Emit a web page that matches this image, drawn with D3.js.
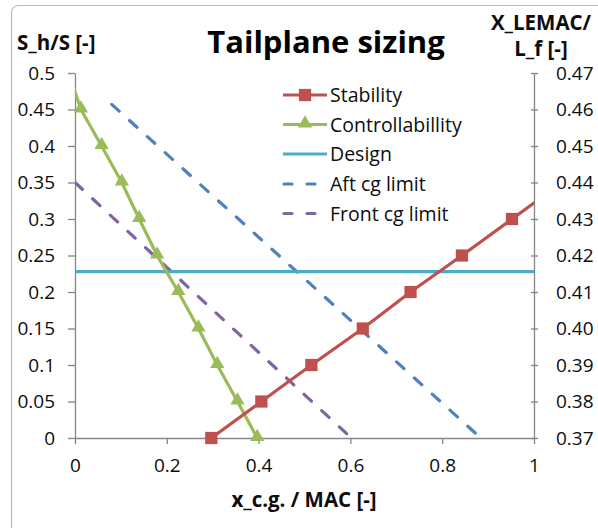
<!DOCTYPE html>
<html>
<head>
<meta charset="utf-8">
<script src="https://cdn.jsdelivr.net/npm/d3@7/dist/d3.min.js"></script>
<style>
  html, body { margin: 0; padding: 0; background: #fff; }
  svg { display: block; font-family: "Open Sans", Lato, sans-serif; }
</style>
</head>
<body>
<svg id="chart" width="598" height="528"></svg>
<script>
// Tailplane sizing: scissor plot of S_h/S against x_c.g./MAC,
// with the c.g. limits read against X_LEMAC/L_f on the right axis.

const xTicks = [0, 0.2, 0.4, 0.6, 0.8, 1];
const yLeftTicks = [0, 0.05, 0.1, 0.15, 0.2, 0.25, 0.3, 0.35, 0.4, 0.45, 0.5];
const yRightTicks = [0.37, 0.38, 0.39, 0.40, 0.41, 0.42, 0.43, 0.44, 0.45, 0.46, 0.47];

// Stability line (left axis)
const stabilityX = [0.297, 0.406, 0.515, 0.627, 0.731, 0.843, 0.952, 1.061];
const stabilityY = [0, 0.05, 0.10, 0.15, 0.20, 0.25, 0.30, 0.35];

// Controllability line (left axis)
const controlX = [-0.014, 0.013, 0.058, 0.102, 0.140, 0.179, 0.225, 0.269, 0.310, 0.354, 0.397];
const controlY = [0.50, 0.45, 0.40, 0.35, 0.30, 0.25, 0.20, 0.15, 0.10, 0.05, 0];

// Chosen design tail size (left axis)
const designX = [0, 1];
const designY = [0.228, 0.228];

// c.g. limits (right axis)
const aftX = [0.080, 0.884];
const aftY = [0.4614, 0.37];
const frontX = [0, 0.602];
const frontY = [0.44, 0.37];

const seriesNames = ["Stability", "Controllabillity", "Design", "Aft cg limit", "Front cg limit"];
const colors = {
  stability: "#c0504d",
  control: "#9bbb59",
  design: "#4bacc6",
  aft: "#4f81bd",
  front: "#8064a2"
};

const svg = d3.select("#chart");
const plot = { left: 75, right: 534, top: 73, bottom: 438 };

const x = d3.scaleLinear().domain([0, 1]).range([plot.left, plot.right]);
const yL = d3.scaleLinear().domain([0, 0.5]).range([plot.bottom, plot.top]);
const yR = d3.scaleLinear().domain([0.37, 0.47]).range([plot.bottom, plot.top]);

// chart frame
svg.append("rect")
  .attr("x", 11.5).attr("y", 5.5)
  .attr("width", 640).attr("height", 600)
  .attr("rx", 7)
  .attr("fill", "none")
  .attr("stroke", "#bcbcbc")
  .attr("stroke-width", 1.2);

svg.append("defs").append("clipPath").attr("id", "plotClip")
  .append("rect")
  .attr("x", plot.left).attr("y", plot.top - 1)
  .attr("width", plot.right - plot.left).attr("height", plot.bottom - plot.top + 8);

const fmt = d => String(+d.toFixed(2));
const axisColor = "#868686";
const labelColor = "#0d0d0d";
const tickFont = 19;

function styleAxis(g) {
  g.select(".domain").attr("stroke", axisColor).attr("stroke-width", 1.3);
  g.selectAll(".tick line").attr("stroke", axisColor).attr("stroke-width", 1.3);
  g.selectAll(".tick text")
    .attr("fill", labelColor)
    .style("font-size", tickFont + "px")
    .style("font-family", "'Open Sans', sans-serif");
}

// bottom axis
const gx = svg.append("g")
  .attr("transform", `translate(0,${plot.bottom})`)
  .call(d3.axisBottom(x).tickValues(xTicks).tickFormat(fmt).tickSize(6).tickSizeOuter(0).tickPadding(15));
styleAxis(gx);

// left axis
const gl = svg.append("g")
  .attr("transform", `translate(${plot.left},0)`)
  .call(d3.axisLeft(yL).tickValues(yLeftTicks).tickFormat(fmt).tickSize(7).tickSizeOuter(0).tickPadding(13));
styleAxis(gl);

// right axis
const gr = svg.append("g")
  .attr("transform", `translate(${plot.right},0)`)
  .call(d3.axisRight(yR).tickValues(yRightTicks).tickFormat(d => d.toFixed(2)).tickSize(4).tickSizeOuter(0).tickPadding(18));
styleAxis(gr);
gr.selectAll(".tick line").attr("x1", -3).attr("x2", 4);

// axis titles
const titleFont = "20.5px";
svg.append("text")
  .attr("x", 17).attr("y", 50)
  .style("font-size", titleFont).style("font-weight", "bold")
  .attr("fill", labelColor)
  .text("S_h/S [-]");

svg.append("text")
  .attr("x", 541).attr("y", 30).attr("text-anchor", "middle")
  .style("font-size", titleFont).style("font-weight", "bold")
  .attr("fill", labelColor)
  .text("X_LEMAC/");
svg.append("text")
  .attr("x", 541).attr("y", 56).attr("text-anchor", "middle")
  .style("font-size", titleFont).style("font-weight", "bold")
  .attr("fill", labelColor)
  .text("L_f [-]");

svg.append("text")
  .attr("x", 304).attr("y", 507).attr("text-anchor", "middle")
  .style("font-size", titleFont).style("font-weight", "bold")
  .attr("fill", labelColor)
  .text("x_c.g. / MAC [-]");

// title
svg.append("text")
  .attr("x", 326).attr("y", 53).attr("text-anchor", "middle")
  .style("font-size", "31px").style("font-weight", "bold")
  .attr("fill", "#000")
  .text("Tailplane sizing");

// series
const series = svg.append("g").attr("clip-path", "url(#plotClip)");
const lineL = d3.line().x(d => x(d[0])).y(d => yL(d[1]));
const lineR = d3.line().x(d => x(d[0])).y(d => yR(d[1]));

const zip = (a, b) => a.map((v, i) => [v, b[i]]);
const stability = zip(stabilityX, stabilityY);
const control = zip(controlX, controlY);
const design = zip(designX, designY);
const aft = zip(aftX, aftY);
const front = zip(frontX, frontY);

const dash = "10,14";

series.append("path").datum(aft).attr("d", lineR)
  .attr("fill", "none").attr("stroke", colors.aft).attr("stroke-width", 3.2)
  .attr("stroke-dasharray", dash).attr("stroke-linecap", "round");
series.append("path").datum(front).attr("d", lineR)
  .attr("fill", "none").attr("stroke", colors.front).attr("stroke-width", 3.2)
  .attr("stroke-dasharray", dash).attr("stroke-linecap", "round");
series.append("path").datum(design).attr("d", lineL)
  .attr("fill", "none").attr("stroke", colors.design).attr("stroke-width", 3.2);
series.append("path").datum(control).attr("d", lineL)
  .attr("fill", "none").attr("stroke", colors.control).attr("stroke-width", 3.2);
series.append("path").datum(stability).attr("d", lineL)
  .attr("fill", "none").attr("stroke", colors.stability).attr("stroke-width", 3.2);

const inPlot = d => d[0] >= 0 && d[0] <= 1;
const square = d3.symbol().type(d3.symbolSquare).size(150);
const triangle = d3.symbol().type(d3.symbolTriangle).size(88);

svg.append("g").selectAll("path").data(control.filter(inPlot)).join("path")
  .attr("d", triangle)
  .attr("transform", d => `translate(${x(d[0])},${yL(d[1]) - 1})`)
  .attr("fill", colors.control);

svg.append("g").selectAll("path").data(stability.filter(inPlot)).join("path")
  .attr("d", square)
  .attr("transform", d => `translate(${x(d[0])},${yL(d[1])})`)
  .attr("fill", colors.stability);

// legend
const legend = svg.append("g");
const legendKeys = ["stability", "control", "design", "aft", "front"];
const rowY = [95, 124.5, 154, 184, 213.5];
const lx0 = 283, lx1 = 327;

legendKeys.forEach((k, i) => {
  const row = legend.append("g").attr("transform", `translate(0,${rowY[i]})`);
  const ln = row.append("line")
    .attr("x1", lx0).attr("x2", lx1).attr("y1", 0).attr("y2", 0)
    .attr("stroke", colors[k]).attr("stroke-width", 3.2);
  if (k === "aft" || k === "front") {
    ln.attr("x1", lx0 + 1).attr("x2", lx1 - 4)
      .attr("stroke-dasharray", "8,15").attr("stroke-linecap", "round");
  }
  if (k === "stability") {
    row.append("path").attr("d", square)
      .attr("transform", `translate(${(lx0 + lx1) / 2},0)`)
      .attr("fill", colors[k]);
  }
  if (k === "control") {
    row.append("path").attr("d", triangle)
      .attr("transform", `translate(${(lx0 + lx1) / 2},-1)`)
      .attr("fill", colors[k]);
  }
  row.append("text")
    .attr("x", 330).attr("y", 0).attr("dy", "0.36em")
    .style("font-size", "19.5px")
    .attr("fill", labelColor)
    .text(seriesNames[i]);
});
</script>
</body>
</html>
